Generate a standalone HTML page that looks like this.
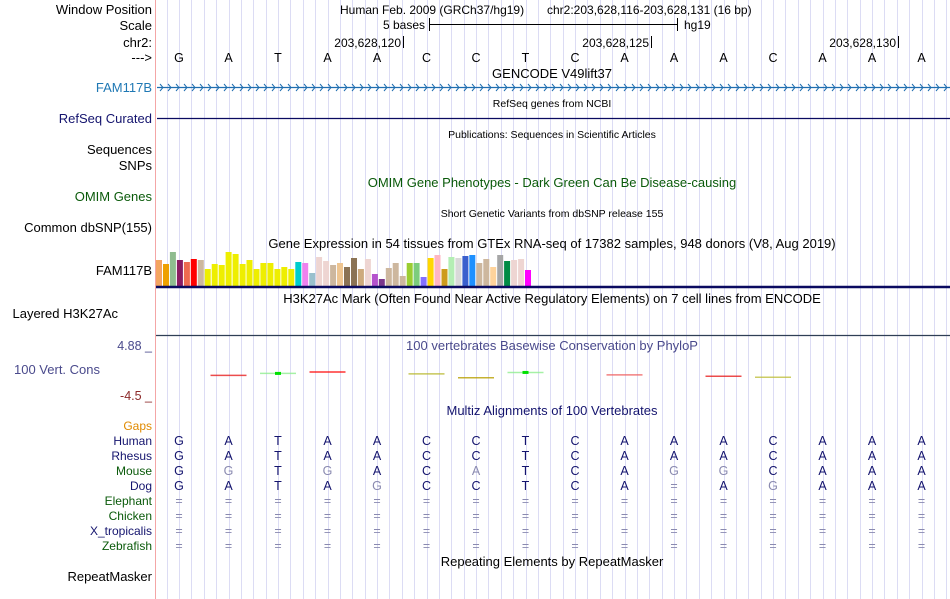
<!DOCTYPE html>
<html><head><meta charset="utf-8"><style>
body{margin:0;background:#fff;}
svg{display:block;font-family:"Liberation Sans",sans-serif;}
</style></head><body>
<svg id="chart" width="950" height="599" viewBox="0 0 950 599" xmlns="http://www.w3.org/2000/svg">
<g id="grid"></g>
<line x1="155.5" y1="0" x2="155.5" y2="599" stroke="#f4a6a6" stroke-width="1"/>
<g font-size="13" fill="#000" text-anchor="end">
<text x="152" y="14">Window Position</text>
<text x="152" y="30">Scale</text>
<text x="152" y="47">chr2:</text>
<text x="152" y="62">---&gt;</text>
<text x="152" y="92" fill="#1f78b4">FAM117B</text>
<text x="152" y="123" fill="#14146e">RefSeq Curated</text>
<text x="152" y="154">Sequences</text>
<text x="152" y="170">SNPs</text>
<text x="152" y="201" fill="#0a5a0a">OMIM Genes</text>
<text x="152" y="232">Common dbSNP(155)</text>
<text x="152" y="275">FAM117B</text>
<text x="118" y="318">Layered H3K27Ac</text>
<text x="152" y="350" font-size="12.5" fill="#4a4a8c">4.88 _</text>
<text x="100" y="374" fill="#4a4a8c">100 Vert. Cons</text>
<text x="152" y="400" font-size="12.5" fill="#8c2a2a">-4.5 _</text>
<g font-size="12">
<text x="152" y="430" fill="#e08a00">Gaps</text>
<text x="152" y="445" fill="#14146e">Human</text>
<text x="152" y="460" fill="#14146e">Rhesus</text>
<text x="152" y="475" fill="#0a5a0a">Mouse</text>
<text x="152" y="490" fill="#14146e">Dog</text>
<text x="152" y="505" fill="#0a5a0a">Elephant</text>
<text x="152" y="520" fill="#0a5a0a">Chicken</text>
<text x="152" y="535" fill="#14146e">X_tropicalis</text>
<text x="152" y="550" fill="#0a5a0a">Zebrafish</text>
</g>
<text x="152" y="581">RepeatMasker</text>
</g>
<g font-size="12" fill="#000">
<text x="340" y="14">Human Feb. 2009 (GRCh37/hg19)</text>
<text x="547" y="14">chr2:203,628,116-203,628,131 (16 bp)</text>
<text x="425" y="29" text-anchor="end">5 bases</text>
<line x1="429.5" y1="24.5" x2="677.5" y2="24.5" stroke="#000"/>
<line x1="429.5" y1="18" x2="429.5" y2="31" stroke="#000"/>
<line x1="677.5" y1="18" x2="677.5" y2="31" stroke="#000"/>
<text x="684" y="29">hg19</text>
</g>
<g id="coords" font-size="12"></g>
<g id="bases" font-size="12.5" text-anchor="middle"></g>
<g font-size="13" text-anchor="middle">
<text x="552" y="78">GENCODE V49lift37</text>
<text x="552" y="107" font-size="10.5">RefSeq genes from NCBI</text>
<text x="552" y="138" font-size="10.5">Publications: Sequences in Scientific Articles</text>
<text x="552" y="187" fill="#0a5a0a">OMIM Gene Phenotypes - Dark Green Can Be Disease-causing</text>
<text x="552" y="217" font-size="10.5">Short Genetic Variants from dbSNP release 155</text>
<text x="552" y="248">Gene Expression in 54 tissues from GTEx RNA-seq of 17382 samples, 948 donors (V8, Aug 2019)</text>
<text x="552" y="303">H3K27Ac Mark (Often Found Near Active Regulatory Elements) on 7 cell lines from ENCODE</text>
<text x="552" y="350" fill="#4a4a8c">100 vertebrates Basewise Conservation by PhyloP</text>
<text x="552" y="415" fill="#14146e">Multiz Alignments of 100 Vertebrates</text>
<text x="552" y="566">Repeating Elements by RepeatMasker</text>
</g>
<g>
<line x1="157" y1="87.5" x2="950" y2="87.5" stroke="#1f6eb0" stroke-width="1.3"/>
<g id="chev" fill="none" stroke="#1f6eb0" stroke-width="1"></g>
</g>
<line x1="157" y1="118.5" x2="950" y2="118.5" stroke="#0a0a60" stroke-width="1.3"/>
<g id="gtex"></g>
<line x1="156" y1="287" x2="950" y2="287" stroke="#0a0a60" stroke-width="2.5"/>
<line x1="156" y1="335.5" x2="950" y2="335.5" stroke="#2f3f55" stroke-width="1.2"/>
<g id="cons"></g>
<g id="multiz" font-size="12.5" text-anchor="middle"></g>
</svg>
<script>
const refBases=["G","A","T","A","A","C","C","T","C","A","A","A","C","A","A","A"];
const species=["Human","Rhesus","Mouse","Dog"];
const aligned=[
"GATAACCTCAAACAAA",
"GATAACCTCAAACAAA",
"GGTGACATCAGGCAAA",
"GATAGCCTCA=AGAAA"];
const gapSpecies=["Elephant","Chicken","X_tropicalis","Zebrafish"];
const coordLabels=["203,628,120","203,628,125","203,628,130"];
const coordBaseIdx=[4,9,14];
const gtexValues=[26,22,34,26,24,27,26,17,22,21,34,32,22,26,17,23,23,17,19,17,24,23,13,29,25,21,23,19,28,17,27,12,7,18,23,10,23,23,9,28,31,17,29,28,30,31,23,27,19,31,25,26,27,16];
const gtexColors=["#f4a460","#eea000","#8fbc8f","#8b1c62","#ee6a50","#ff0000","#cdb79e","#eeee00","#eeee00","#eeee00","#eeee00","#eeee00","#eeee00","#eeee00","#eeee00","#eeee00","#eeee00","#eeee00","#eeee00","#eeee00","#00cdcd","#ee82ee","#9ac0cd","#eed5d2","#eed5d2","#cdb79e","#eec591","#8b7355","#8b7355","#cdaa7d","#eed5d2","#b452cd","#7a378b","#cdb79e","#cdb79e","#cdb79e","#9acd32","#7ccd7c","#8470ff","#ffd700","#ffb6c1","#cd9b1d","#b4eeb4","#d9d9d9","#3a5fcd","#1e90ff","#cdb79e","#cdb79e","#ffd39b","#a6a6a6","#008b45","#eed5d2","#eed5d2","#ff00ff"];
const consIdx=[1,2,3,5,6,7,9,11,12];
const consScores=[-0.4,0.0,0.3,-0.1,-0.9,0.2,-0.3,-0.6,-0.8];
const consColors=["#e82020","#90ee90","#ff0000","#b8b830","#b8a000","#90ee90","#f06060","#e82020","#c0c040"];

const NS="http://www.w3.org/2000/svg";
function mk(tag,attrs,parent){const e=document.createElementNS(NS,tag);for(const k in attrs)e.setAttribute(k,attrs[k]);parent.appendChild(e);return e;}
const x0=179, bw=49.5;
function bx(i){return x0+bw*i;}
const grid=document.getElementById('grid');
for(let k=-1;k<64;k++){const x=Math.round(x0+bw/4*k)+0.5;const l=mk('line',{x1:x,y1:0,x2:x,y2:599,stroke:'#dcdcf4','stroke-width':1},grid);

}
const bases=document.getElementById('bases');
refBases.forEach((b,i)=>{const t=mk('text',{x:bx(i),y:62},bases);t.textContent=b;

});
const coords=document.getElementById('coords');
coordLabels.forEach((c,j)=>{const x=Math.round(bx(coordBaseIdx[j])+26);
const t=mk('text',{x:x-2,y:47,'text-anchor':'end'},coords);t.textContent=c;


mk('line',{x1:x+0.5,y1:36,x2:x+0.5,y2:48,stroke:'#000'},coords);});
const chev=document.getElementById('chev');
for(let x=160;x<948;x+=8){mk('path',{d:`M${x},84 L${x+3},87.5 L${x},91`},chev);}
const gtex=document.getElementById('gtex');
const baseY=286, scale=1, bwid=376/gtexValues.length;
gtexValues.forEach((v,i)=>{const h=v*scale;const r=mk('rect',{x:(156+i*bwid).toFixed(1),y:baseY-h,width:(bwid-1).toFixed(1),height:h,fill:gtexColors[i]},gtex);

});
const cons=document.getElementById('cons');
function cy(s){return 350+(4.88-s)/9.38*45;}
consIdx.forEach((b,i)=>{const x=bx(b),y=cy(consScores[i]);
const l=mk('line',{x1:x-18,y1:y,x2:x+18,y2:y,stroke:consColors[i],'stroke-width':1.5,opacity:0.8},cons);


if(consColors[i]==="#90ee90"){mk('rect',{x:x-3,y:y-1.5,width:6,height:3,fill:'#00e000'},cons);}});
const mz=document.getElementById('multiz');
aligned.forEach((row,r)=>{for(let i=0;i<row.length;i++){const ch=row[i];const same=ch===refBases[i];
const t=mk('text',{x:bx(i),y:445+15*r,fill:same?'#14146e':'#8a8ab0'},mz);t.textContent=ch;

}});
gapSpecies.forEach((s,r)=>{for(let i=0;i<refBases.length;i++){const t=mk('text',{x:bx(i),y:505+15*r,fill:'#8a8ab0'},mz);t.textContent='=';

}});
</script>
</body></html>
